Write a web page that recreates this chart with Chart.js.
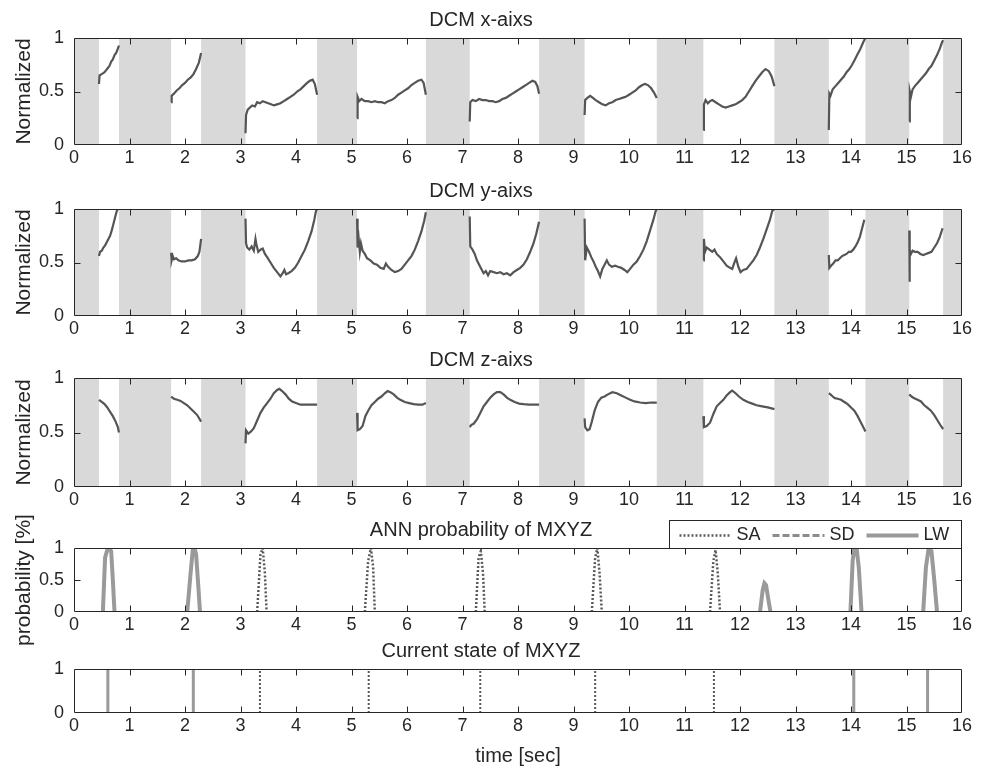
<!DOCTYPE html>
<html>
<head>
<meta charset="utf-8">
<script src="https://cdn.jsdelivr.net/npm/chart.js@4.4.1/dist/chart.umd.min.js"></script>
<style>
  html, body { margin: 0; padding: 0; background: #fff; overflow: hidden; }
  #fig { position: relative; width: 988px; height: 772px; }
  #fig canvas { position: absolute; left: 0; }
</style>
</head>
<body>
<div id="fig"></div>
<script>
// shaded intervals [start, end] in seconds (same on the three DCM panels)
const shadedBands = [[0, 0.45], [0.81, 1.75], [2.29, 3.09], [4.38, 5.10], [6.34, 7.13],
  [8.38, 9.20], [10.50, 11.34], [12.62, 13.60], [14.26, 15.05], [15.66, 16]];

// [time, value] ; null = break in the line
const dcmX = [
  [0.45,0.57],[0.46,0.65],[0.49,0.66],[0.52,0.67],[0.55,0.68],[0.58,0.70],[0.61,0.72],[0.64,0.74],[0.67,0.78],[0.70,0.80],[0.73,0.84],[0.76,0.86],[0.79,0.90],[0.81,0.93], null,
  [1.75,0.40],[1.76,0.46],[1.80,0.48],[1.85,0.51],[1.90,0.53],[1.95,0.56],[2.00,0.58],[2.05,0.61],[2.10,0.63],[2.15,0.66],[2.20,0.71],[2.25,0.77],[2.29,0.86], null,
  [3.09,0.11],[3.10,0.28],[3.13,0.33],[3.17,0.35],[3.21,0.37],[3.26,0.36],[3.30,0.40],[3.35,0.39],[3.40,0.41],[3.45,0.40],[3.50,0.39],[3.55,0.38],[3.60,0.37],[3.66,0.38],[3.72,0.39],[3.78,0.41],[3.84,0.43],[3.90,0.45],[3.96,0.47],[4.02,0.50],[4.08,0.52],[4.14,0.55],[4.20,0.58],[4.25,0.60],[4.30,0.61],[4.34,0.57],[4.38,0.47], null,
  [5.10,0.25],[5.11,0.45],[5.14,0.41],[5.18,0.43],[5.24,0.41],[5.30,0.41],[5.36,0.40],[5.42,0.41],[5.48,0.40],[5.54,0.40],[5.60,0.39],[5.66,0.41],[5.72,0.42],[5.78,0.44],[5.84,0.47],[5.90,0.49],[5.96,0.51],[6.02,0.53],[6.08,0.56],[6.14,0.58],[6.20,0.60],[6.26,0.61],[6.30,0.58],[6.34,0.47], null,
  [7.13,0.22],[7.14,0.40],[7.18,0.42],[7.24,0.41],[7.30,0.43],[7.36,0.42],[7.42,0.42],[7.48,0.41],[7.54,0.41],[7.60,0.40],[7.66,0.41],[7.72,0.43],[7.78,0.44],[7.84,0.46],[7.90,0.48],[7.96,0.50],[8.02,0.52],[8.08,0.54],[8.14,0.56],[8.20,0.58],[8.26,0.60],[8.31,0.59],[8.35,0.55],[8.38,0.48], null,
  [9.20,0.28],[9.21,0.42],[9.25,0.44],[9.30,0.46],[9.35,0.44],[9.40,0.42],[9.46,0.40],[9.52,0.38],[9.58,0.37],[9.64,0.39],[9.70,0.40],[9.76,0.42],[9.82,0.43],[9.88,0.44],[9.94,0.45],[10.00,0.47],[10.06,0.49],[10.12,0.51],[10.18,0.54],[10.24,0.56],[10.29,0.57],[10.34,0.56],[10.40,0.53],[10.45,0.49],[10.50,0.44], null,
  [11.34,0.14],[11.35,0.38],[11.38,0.42],[11.42,0.39],[11.46,0.41],[11.50,0.42],[11.56,0.40],[11.62,0.38],[11.68,0.36],[11.74,0.35],[11.80,0.36],[11.86,0.37],[11.92,0.38],[11.98,0.40],[12.04,0.42],[12.10,0.45],[12.16,0.50],[12.22,0.55],[12.28,0.60],[12.34,0.64],[12.40,0.68],[12.46,0.71],[12.52,0.69],[12.57,0.64],[12.62,0.55], null,
  [13.60,0.14],[13.61,0.48],[13.63,0.46],[13.67,0.52],[13.72,0.55],[13.77,0.58],[13.82,0.61],[13.87,0.64],[13.92,0.68],[13.97,0.71],[14.02,0.75],[14.07,0.80],[14.12,0.85],[14.17,0.90],[14.22,0.96],[14.26,1.00], null,
  [15.05,0.22],[15.06,0.50],[15.08,0.45],[15.11,0.52],[15.15,0.55],[15.20,0.58],[15.25,0.61],[15.30,0.64],[15.35,0.67],[15.40,0.71],[15.45,0.74],[15.50,0.79],[15.55,0.84],[15.60,0.90],[15.64,0.96],[15.66,0.98]
];

const dcmY = [
  [0.45,0.56],[0.47,0.60],[0.50,0.61],[0.53,0.64],[0.56,0.66],[0.59,0.69],[0.62,0.72],[0.65,0.75],[0.68,0.80],[0.71,0.86],[0.74,0.92],[0.77,0.98],[0.79,1.00],[0.81,1.00], null,
  [1.75,0.59],[1.76,0.52],[1.78,0.56],[1.80,0.53],[1.84,0.54],[1.88,0.52],[1.94,0.51],[2.00,0.51],[2.06,0.52],[2.12,0.52],[2.18,0.53],[2.23,0.56],[2.26,0.60],[2.29,0.72], null,
  [3.09,0.91],[3.10,0.68],[3.12,0.64],[3.16,0.62],[3.20,0.65],[3.24,0.61],[3.27,0.72],[3.29,0.66],[3.32,0.60],[3.36,0.62],[3.40,0.63],[3.44,0.58],[3.48,0.55],[3.54,0.50],[3.60,0.45],[3.66,0.41],[3.72,0.37],[3.76,0.40],[3.79,0.43],[3.82,0.39],[3.86,0.40],[3.92,0.42],[3.98,0.45],[4.04,0.50],[4.10,0.56],[4.16,0.62],[4.22,0.70],[4.28,0.79],[4.33,0.90],[4.36,0.98],[4.38,1.00], null,
  [5.10,0.91],[5.11,0.64],[5.13,0.72],[5.15,0.60],[5.17,0.68],[5.20,0.61],[5.24,0.58],[5.28,0.54],[5.34,0.52],[5.40,0.49],[5.46,0.48],[5.52,0.45],[5.58,0.44],[5.62,0.49],[5.66,0.46],[5.72,0.43],[5.78,0.41],[5.84,0.42],[5.90,0.44],[5.96,0.48],[6.02,0.52],[6.08,0.56],[6.14,0.62],[6.20,0.70],[6.26,0.79],[6.31,0.89],[6.34,0.97], null,
  [7.13,0.93],[7.14,0.65],[7.18,0.62],[7.22,0.58],[7.26,0.52],[7.30,0.48],[7.34,0.44],[7.38,0.40],[7.42,0.42],[7.46,0.38],[7.50,0.42],[7.56,0.41],[7.62,0.40],[7.68,0.41],[7.74,0.39],[7.80,0.40],[7.86,0.38],[7.92,0.41],[7.98,0.43],[8.04,0.45],[8.10,0.48],[8.16,0.53],[8.22,0.60],[8.28,0.68],[8.33,0.77],[8.38,0.88], null,
  [9.20,0.91],[9.21,0.52],[9.24,0.64],[9.28,0.60],[9.32,0.55],[9.36,0.51],[9.40,0.46],[9.44,0.42],[9.48,0.37],[9.52,0.44],[9.56,0.48],[9.60,0.52],[9.64,0.48],[9.69,0.46],[9.75,0.47],[9.80,0.46],[9.86,0.45],[9.92,0.43],[9.97,0.41],[10.02,0.44],[10.08,0.48],[10.14,0.51],[10.20,0.56],[10.26,0.62],[10.32,0.70],[10.38,0.80],[10.44,0.90],[10.48,0.98],[10.50,1.00], null,
  [11.34,0.52],[11.35,0.72],[11.37,0.60],[11.40,0.64],[11.45,0.62],[11.50,0.60],[11.54,0.62],[11.58,0.58],[11.64,0.55],[11.70,0.51],[11.76,0.47],[11.82,0.45],[11.86,0.44],[11.90,0.50],[11.93,0.54],[11.97,0.46],[12.01,0.41],[12.06,0.43],[12.12,0.44],[12.18,0.48],[12.24,0.52],[12.30,0.57],[12.36,0.64],[12.42,0.72],[12.48,0.81],[12.54,0.90],[12.58,0.98],[12.62,1.00], null,
  [13.60,0.57],[13.61,0.45],[13.64,0.47],[13.68,0.49],[13.72,0.52],[13.76,0.52],[13.80,0.54],[13.84,0.56],[13.88,0.57],[13.92,0.58],[13.96,0.60],[14.00,0.60],[14.04,0.62],[14.08,0.65],[14.12,0.69],[14.16,0.74],[14.20,0.82],[14.24,0.90], null,
  [15.05,0.80],[15.055,0.32],[15.06,0.62],[15.08,0.58],[15.11,0.61],[15.15,0.60],[15.20,0.60],[15.25,0.58],[15.30,0.57],[15.35,0.58],[15.40,0.59],[15.45,0.60],[15.50,0.64],[15.55,0.68],[15.60,0.74],[15.65,0.82]
];

const dcmZ = [
  [0.45,0.80],[0.50,0.78],[0.55,0.76],[0.60,0.73],[0.65,0.69],[0.70,0.65],[0.75,0.60],[0.79,0.55],[0.81,0.50], null,
  [1.75,0.83],[1.80,0.81],[1.86,0.80],[1.92,0.79],[1.98,0.77],[2.04,0.75],[2.10,0.72],[2.16,0.69],[2.22,0.66],[2.29,0.60], null,
  [3.09,0.40],[3.10,0.52],[3.14,0.49],[3.19,0.51],[3.24,0.54],[3.30,0.61],[3.36,0.68],[3.42,0.73],[3.48,0.77],[3.54,0.81],[3.60,0.86],[3.66,0.89],[3.70,0.90],[3.75,0.88],[3.81,0.85],[3.87,0.81],[3.93,0.785],[4.00,0.77],[4.08,0.755],[4.16,0.755],[4.24,0.755],[4.32,0.755],[4.38,0.755], null,
  [5.10,0.68],[5.11,0.52],[5.15,0.53],[5.20,0.56],[5.25,0.65],[5.30,0.70],[5.36,0.75],[5.42,0.78],[5.48,0.81],[5.54,0.83],[5.60,0.86],[5.65,0.88],[5.70,0.87],[5.76,0.85],[5.82,0.82],[5.88,0.80],[5.96,0.78],[6.04,0.77],[6.12,0.76],[6.20,0.755],[6.28,0.755],[6.34,0.77], null,
  [7.13,0.55],[7.16,0.57],[7.20,0.58],[7.26,0.62],[7.32,0.68],[7.38,0.74],[7.44,0.78],[7.50,0.82],[7.56,0.85],[7.62,0.87],[7.68,0.87],[7.74,0.85],[7.80,0.82],[7.86,0.80],[7.94,0.78],[8.02,0.765],[8.10,0.76],[8.20,0.755],[8.30,0.755],[8.38,0.755], null,
  [9.20,0.63],[9.21,0.55],[9.25,0.52],[9.29,0.53],[9.33,0.60],[9.38,0.70],[9.44,0.78],[9.50,0.82],[9.56,0.83],[9.62,0.85],[9.70,0.87],[9.78,0.86],[9.86,0.84],[9.94,0.82],[10.02,0.80],[10.10,0.785],[10.20,0.775],[10.30,0.77],[10.40,0.775],[10.50,0.775], null,
  [11.34,0.65],[11.35,0.55],[11.40,0.56],[11.46,0.59],[11.52,0.67],[11.58,0.74],[11.64,0.77],[11.70,0.80],[11.76,0.84],[11.82,0.87],[11.86,0.885],[11.92,0.86],[11.98,0.83],[12.06,0.80],[12.14,0.78],[12.22,0.765],[12.30,0.75],[12.40,0.74],[12.50,0.73],[12.62,0.715], null,
  [13.60,0.86],[13.63,0.85],[13.67,0.83],[13.71,0.815],[13.76,0.81],[13.82,0.80],[13.88,0.78],[13.94,0.76],[14.00,0.73],[14.06,0.70],[14.12,0.65],[14.18,0.59],[14.22,0.55],[14.26,0.51], null,
  [15.05,0.85],[15.09,0.83],[15.14,0.815],[15.20,0.80],[15.26,0.785],[15.32,0.75],[15.38,0.725],[15.44,0.70],[15.50,0.66],[15.56,0.61],[15.62,0.56],[15.66,0.53]
];

// ANN output probabilities, [time, probability]
const probSA = [
  [3.30,0],[3.36,0.9],[3.40,1.0],[3.44,0.6],[3.47,0], null,
  [5.24,0],[5.30,0.8],[5.35,1.0],[5.39,0.7],[5.42,0], null,
  [7.24,0],[7.29,0.85],[7.33,0.95],[7.37,0.6],[7.40,0], null,
  [9.33,0],[9.39,0.85],[9.43,1.0],[9.47,0.6],[9.51,0], null,
  [11.46,0],[11.52,0.8],[11.56,0.97],[11.60,0.6],[11.64,0]
];
const probSD = [];
const probLW = [
  [0.52,0],[0.56,0.85],[0.60,0.97],[0.63,1.0],[0.67,0.95],[0.70,0.5],[0.73,0], null,
  [2.04,0],[2.10,0.6],[2.14,0.97],[2.17,1.0],[2.20,0.9],[2.24,0.4],[2.27,0], null,
  [12.36,0],[12.41,0.35],[12.44,0.45],[12.47,0.42],[12.51,0.2],[12.55,0], null,
  [13.99,0],[14.03,0.8],[14.06,1.0],[14.10,1.0],[14.14,0.7],[14.19,0], null,
  [15.30,0],[15.35,0.7],[15.40,1.0],[15.45,0.95],[15.50,0.5],[15.55,0]
];

// detected state switch times (sec)
const stateSA = [3.35, 5.31, 7.32, 9.39, 11.53];
const stateLW = [0.61, 2.15, 14.05, 15.38];

const xTicks = { min: 0, max: 16, step: 1 };

const FONT = '"Liberation Sans", Arial, Helvetica, sans-serif';
const INK = '#262626';
const BAND = '#d9d9d9';

function toPoints(pairs) {
  const out = [];
  pairs.forEach(p => {
    if (p) out.push({ x: p[0], y: p[1] });
    else out.push({ x: out[out.length - 1].x, y: null });
  });
  return out;
}

function toSpikes(times) {
  const out = [];
  times.forEach(t => { out.push({ x: t, y: 0 }, { x: t, y: 1 }, { x: t, y: null }); });
  return out;
}

// grey shading behind the traces
const bandsPlugin = {
  id: 'bands',
  beforeDatasetsDraw(chart, args, opts) {
    if (!opts.ranges) return;
    const { ctx, chartArea: a, scales: { x } } = chart;
    ctx.save();
    ctx.fillStyle = BAND;
    opts.ranges.forEach(([s, e]) => {
      const x0 = Math.max(a.left, x.getPixelForValue(s));
      const x1 = Math.min(a.right, x.getPixelForValue(e));
      ctx.fillRect(x0, a.top, x1 - x0, a.height);
    });
    ctx.restore();
  }
};

// matlab style box with inward ticks
const boxPlugin = {
  id: 'axesBox',
  afterDatasetsDraw(chart) {
    const { ctx, chartArea: a, scales: { x, y } } = chart;
    const L = Math.round(a.left) + 0.5, R = Math.round(a.right) - 0.5;
    const T = Math.round(a.top) + 0.5, B = Math.round(a.bottom) - 0.5;
    const len = 6;
    ctx.save();
    ctx.strokeStyle = INK;
    ctx.lineWidth = 1;
    ctx.beginPath();
    ctx.rect(L, T, R - L, B - T);
    x.ticks.forEach(t => {
      const px = Math.round(x.getPixelForValue(t.value)) + 0.5;
      if (px <= L + 1 || px >= R - 1) return;
      ctx.moveTo(px, B); ctx.lineTo(px, B - len);
      ctx.moveTo(px, T); ctx.lineTo(px, T + len);
    });
    y.ticks.forEach(t => {
      const py = Math.round(y.getPixelForValue(t.value)) + 0.5;
      if (py <= T + 1 || py >= B - 1) return;
      ctx.moveTo(L, py); ctx.lineTo(L + len, py);
      ctx.moveTo(R, py); ctx.lineTo(R - len, py);
    });
    ctx.stroke();
    ctx.restore();
  }
};

// boxed horizontal legend sitting on top of the axes (panel 4)
const boxLegendPlugin = {
  id: 'boxLegend',
  afterDraw(chart, args, opts) {
    if (!opts.show) return;
    const { ctx, chartArea: a } = chart;
    const w = 293, h = 28;
    const left = a.right - w + 0.5, top = a.top - h + 0.5;
    ctx.save();
    ctx.fillStyle = '#fff';
    ctx.fillRect(left, top, w, h);
    ctx.strokeStyle = INK;
    ctx.lineWidth = 1;
    ctx.strokeRect(left, top, w - 1, h);
    ctx.font = '18px ' + FONT;
    ctx.textBaseline = 'middle';
    const cy = top + h / 2 + 1;
    let cx = left + 10;
    chart.data.datasets.forEach(ds => {
      ctx.beginPath();
      ctx.strokeStyle = ds.borderColor;
      ctx.lineWidth = ds.borderWidth;
      ctx.setLineDash(ds.borderDash || []);
      ctx.moveTo(cx, cy); ctx.lineTo(cx + 52, cy);
      ctx.stroke();
      ctx.setLineDash([]);
      ctx.fillStyle = INK;
      ctx.fillText(ds.label, cx + 57, cy);
      cx += 57 + ctx.measureText(ds.label).width + 12;
    });
    ctx.restore();
  }
};

const traceStyle = { borderColor: '#555555', borderWidth: 2.2 };
const saStyle = { borderColor: '#5a5a5a', borderWidth: 2.5, borderDash: [2, 2] };
const sdStyle = { borderColor: '#8c8c8c', borderWidth: 3, borderDash: [7, 3] };
const lwStyle = { borderColor: '#9a9a9a', borderWidth: 4 };

const panels = [
  { title: 'DCM x-aixs', top: 38, bottom: 145, yTitle: 'Normalized', yStep: 0.5, bands: shadedBands,
    datasets: [{ label: 'x', data: toPoints(dcmX), ...traceStyle }] },
  { title: 'DCM y-aixs', top: 209, bottom: 316, yTitle: 'Normalized', yStep: 0.5, bands: shadedBands,
    datasets: [{ label: 'y', data: toPoints(dcmY), ...traceStyle }] },
  { title: 'DCM z-aixs', top: 378, bottom: 487, yTitle: 'Normalized', yStep: 0.5, bands: shadedBands,
    datasets: [{ label: 'z', data: toPoints(dcmZ), ...traceStyle }] },
  { title: 'ANN probability of MXYZ', top: 548, bottom: 612, yTitle: 'probability [%]', yStep: 0.5, legend: true, extra: 45,
    datasets: [
      { label: 'SA', data: toPoints(probSA), ...saStyle },
      { label: 'SD', data: toPoints(probSD), ...sdStyle },
      { label: 'LW', data: toPoints(probLW), ...lwStyle }
    ] },
  { title: 'Current state of MXYZ', top: 669, bottom: 713, yStep: 1, xTitle: 'time [sec]',
    datasets: [
      { label: 'SA', data: toSpikes(stateSA), ...saStyle, borderWidth: 2 },
      { label: 'LW', data: toSpikes(stateLW), ...lwStyle, borderWidth: 3 }
    ] }
];

function makePanel(p) {
  const extra = p.extra || 0;   // spare room so long axis titles are not cut
  const headroom = 38;
  const footroom = p.xTitle ? 772 - p.bottom : 30 + extra;
  const canvas = document.createElement('canvas');
  canvas.width = 988;
  canvas.height = p.bottom - p.top + headroom + extra + footroom;
  canvas.style.top = (p.top - headroom - extra) + 'px';
  document.getElementById('fig').appendChild(canvas);

  p.datasets.forEach(d => { d.pointRadius = 0; d.tension = 0; d.fill = false; d.spanGaps = false; });

  return new Chart(canvas, {
    type: 'line',
    data: { datasets: p.datasets },
    options: {
      responsive: false,
      animation: false,
      devicePixelRatio: 1,
      layout: { padding: { left: 0, right: 26, top: extra, bottom: 0 } },
      scales: {
        x: {
          type: 'linear', min: xTicks.min, max: xTicks.max,
          grid: { display: false, drawTicks: false }, border: { display: false },
          ticks: { stepSize: xTicks.step, padding: 2, color: INK, maxRotation: 0, autoSkip: false,
                   font: { family: FONT, size: 18 } },
          title: { display: !!p.xTitle, text: p.xTitle || '', color: INK,
                   font: { family: FONT, size: 20 }, padding: { top: 0, bottom: 4 } },
          afterFit: s => { s.height = footroom; }
        },
        y: {
          min: 0, max: 1,
          grid: { display: false, drawTicks: false }, border: { display: false },
          ticks: { stepSize: p.yStep, padding: 10, color: INK, font: { family: FONT, size: 18 },
                   callback: v => String(v) },
          title: { display: !!p.yTitle, text: p.yTitle || '', color: INK,
                   font: { family: FONT, size: 21 }, padding: { top: 12, bottom: 0 } },
          afterFit: s => { s.width = 74; }
        }
      },
      plugins: {
        legend: { display: false },
        tooltip: { enabled: false },
        title: { display: true, text: p.title, color: INK, font: { family: FONT, size: 20, weight: 'normal' },
                 padding: { top: 8, bottom: 6 } },
        bands: { ranges: p.bands },
        boxLegend: { show: !!p.legend }
      }
    },
    plugins: [bandsPlugin, boxPlugin, boxLegendPlugin]
  });
}

panels.forEach(makePanel);
</script>
</body>
</html>
